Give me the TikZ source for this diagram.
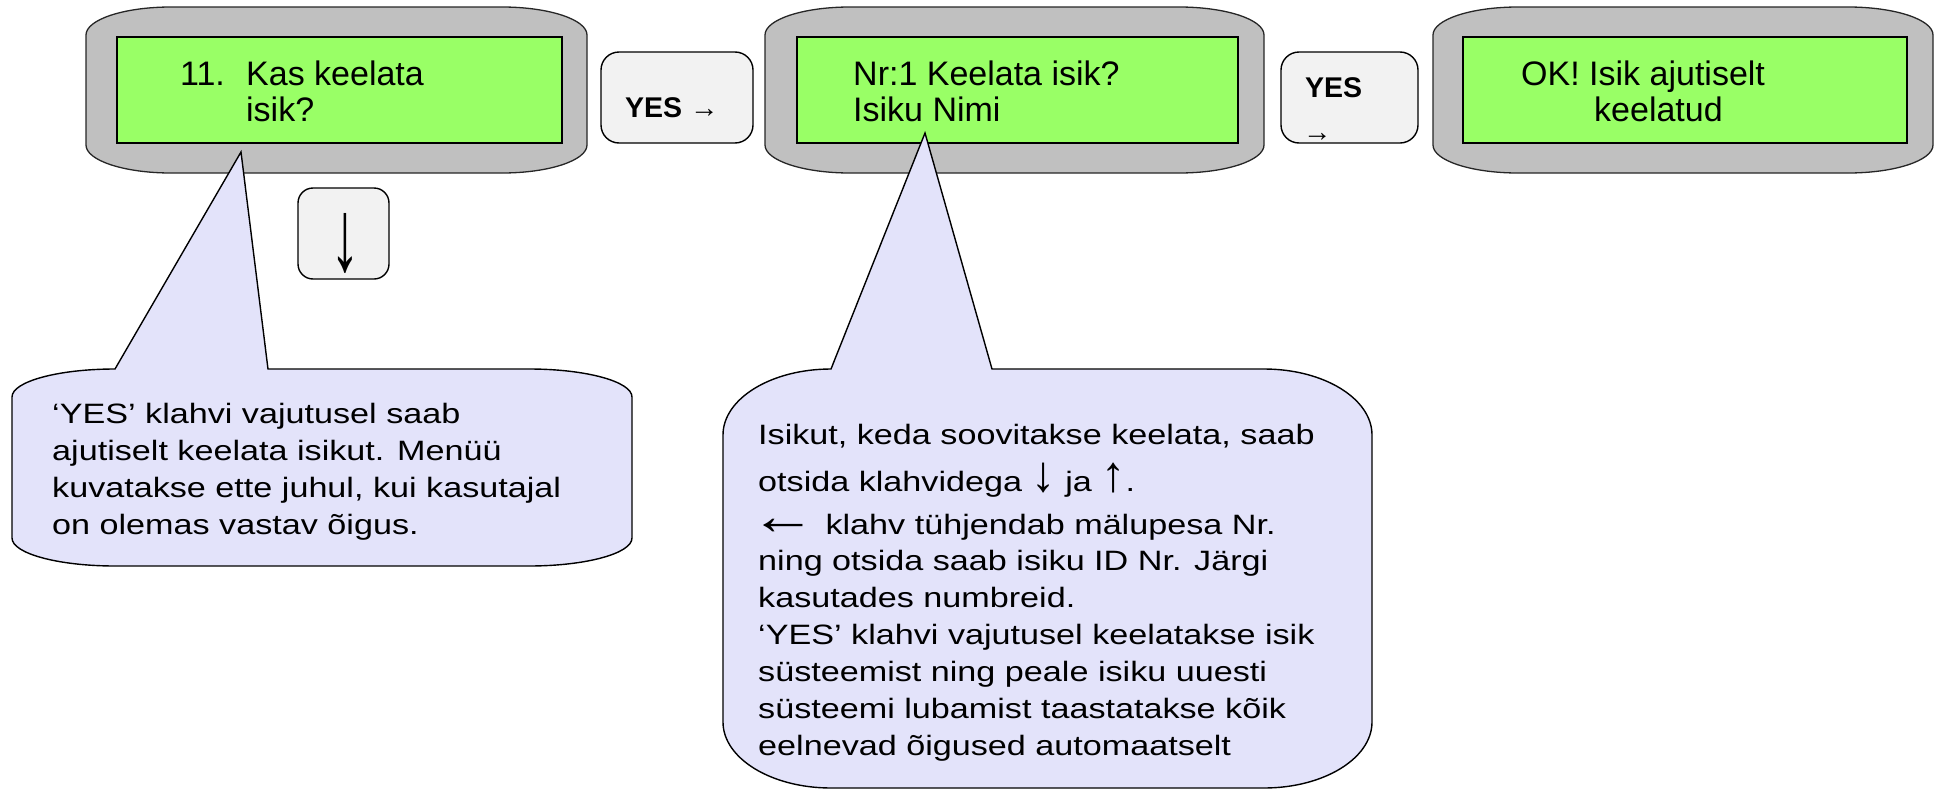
\documentclass[tikz,border=0pt]{standalone}
\usepackage{graphicx}
\usepackage{fontspec}
\setmainfont{Liberation Sans}
\newfontfamily\notefont[FakeStretch=1.22]{Liberation Sans}
\definecolor{dispgray}{HTML}{C0C0C0}
\definecolor{lcdgreen}{HTML}{99FF66}
\definecolor{keyfill}{HTML}{F2F2F2}
\definecolor{notefill}{HTML}{E3E3FA}
\newcommand\shellshape[2]{%
  \path[shell] (#1+85,-7) -- (#2-85,-7)
    arc[start angle=90,end angle=0,x radius=85pt,y radius=28pt] -- (#2,-145)
    arc[start angle=0,end angle=-90,x radius=85pt,y radius=28pt] -- (#1+85,-173)
    arc[start angle=270,end angle=180,x radius=85pt,y radius=28pt] -- (#1,-35)
    arc[start angle=180,end angle=90,x radius=85pt,y radius=28pt] -- cycle;}
\newcommand\bigarr[1]{{\fontsize{44}{44}\selectfont\scalebox{0.9}[1.15]{#1}}}
\begin{document}
\begin{tikzpicture}[x=1pt,y=1pt,
  shell/.style={fill=dispgray, draw=black!85, line width=1.3pt},
  lcd/.style={rectangle, fill=lcdgreen, draw=black, line width=2.2pt, inner sep=0},
  key/.style={rectangle, rounded corners=18pt, fill=keyfill, draw=black, line width=1.4pt, inner sep=0},
  note/.style={fill=notefill, draw=black, line width=1.4pt},
  lcdtext/.style={anchor=base west, inner sep=0, align=left, font=\fontsize{34}{36}\selectfont},
  notetext/.style={anchor=base west, inner sep=0, align=left, font=\notefont\fontsize{28}{37}\selectfont},
  keytext/.style={inner sep=0, font=\fontsize{28.5}{30}\selectfont},
]
\useasboundingbox (0,0) rectangle (1939,-790);

% display shells
\shellshape{86}{587}
\shellshape{765}{1264}
\shellshape{1433}{1933}

% LCD screens
\node[lcd, minimum width=445pt, minimum height=106pt] (g1) at (339.5,-90) {};
\node[lcd, minimum width=441pt, minimum height=106pt] (g2) at (1017.5,-90) {};
\node[lcd, minimum width=444pt, minimum height=106pt] (g3) at (1685,-90) {};

% (anchor = baseline of the last line)
\node[lcdtext] (d1) at (180,-121) {\makebox[66pt][l]{11.}Kas keelata\\\hspace*{66pt}isik?};
\node[lcdtext] (d2) at (853,-121) {Nr:1 Keelata isik?\\Isiku Nimi};
\node[lcdtext] (d3) at (1521,-121) {OK! Isik ajutiselt\\\hspace*{73pt}keelatud};

% keys
\node[key, minimum width=152pt, minimum height=91pt] (k1) at (677,-97.5) {};
\node[keytext, anchor=base west] (k1t) at (625,-117) {\textbf{YES} →};
\node[key, minimum width=137pt, minimum height=91pt] (k2) at (1349.5,-97.5) {};
\node[keytext, anchor=base west] (k2t) at (1305,-97) {\textbf{YES}};
\node[keytext, anchor=base west] (k2a) at (1303,-141) {→};
\node[key, rounded corners=15pt, minimum width=91pt, minimum height=91pt] (k3) at (343.5,-233.5) {};
\node[inner sep=0, font=\fontsize{70}{70}\selectfont] (k3a) at (345,-243) {\scalebox{0.85}[1.45]{↓}};

% callout 1
\path[note] (268,-369) -- (529,-369)
  arc[start angle=90,end angle=0,x radius=103pt,y radius=28pt] -- (632,-538)
  arc[start angle=0,end angle=-90,x radius=103pt,y radius=28pt] -- (115,-566)
  arc[start angle=270,end angle=180,x radius=103pt,y radius=28pt] -- (12,-397)
  arc[start angle=180,end angle=90,x radius=103pt,y radius=28pt] -- (241,-152) -- cycle;
\node[notetext] (n1) at (52,-534) {‘YES’ klahvi vajutusel saab\\ajutiselt keelata isikut. Menüü\\kuvatakse ette juhul, kui kasutajal\\on olemas vastav õigus.};

% callout 2
\path[note] (992,-369) -- (1264,-369)
  arc[start angle=90,end angle=0,x radius=108pt,y radius=66pt] -- (1372,-722)
  arc[start angle=0,end angle=-90,x radius=108pt,y radius=66pt] -- (831,-788)
  arc[start angle=270,end angle=180,x radius=108pt,y radius=66pt] -- (723,-435)
  arc[start angle=180,end angle=90,x radius=108pt,y radius=66pt] -- (925,-133) -- cycle;
\node[notetext] (n2) at (758,-755) {Isikut, keda soovitakse keelata, saab\\[10pt]
otsida klahvidega \bigarr{↓} ja \bigarr{↑}.\\[6pt]
\hspace*{-8pt}{\fontsize{54}{54}\selectfont←} klahv tühjendab mälupesa Nr.\\[-1pt]
ning otsida saab isiku ID Nr. Järgi\\
kasutades numbreid.\\
‘YES’ klahvi vajutusel keelatakse isik\\
süsteemist ning peale isiku uuesti\\
süsteemi lubamist taastatakse kõik\\
eelnevad õigused automaatselt};
\end{tikzpicture}
\end{document}
